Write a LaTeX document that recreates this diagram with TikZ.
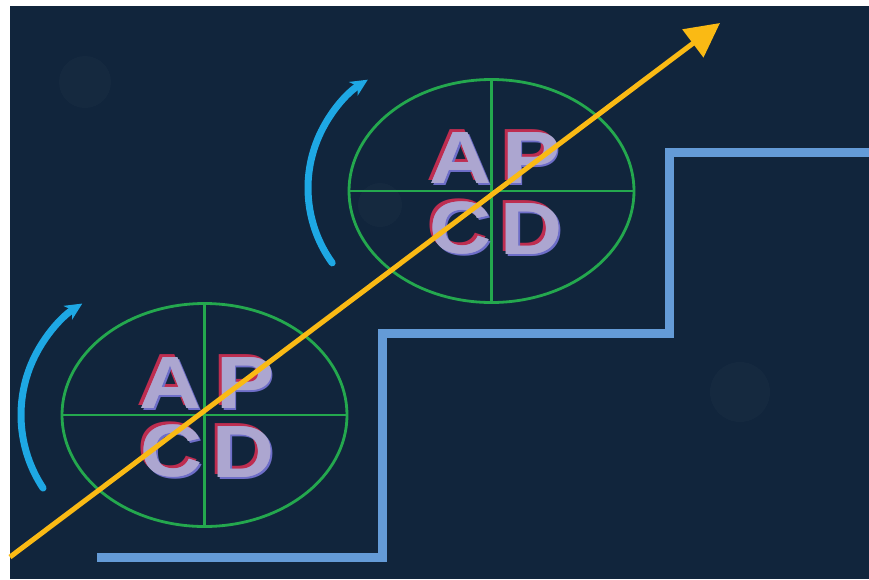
\documentclass[tikz,border=0pt]{standalone}
\usepackage{fontspec}
\usepackage{graphicx}
\newfontfamily\letterfont{Liberation Sans}
\usetikzlibrary{shapes.geometric,arrows.meta,calc}
\definecolor{bgnavy}{RGB}{17,37,60}
\definecolor{stairblue}{RGB}{100,155,215}
\definecolor{ringgreen}{RGB}{36,168,78}
\definecolor{arcblue}{RGB}{30,168,228}
\definecolor{arrowyellow}{RGB}{250,186,20}
\definecolor{lettfill}{RGB}{172,166,208}
\definecolor{lettred}{RGB}{190,45,80}
\definecolor{lettblue}{RGB}{110,110,200}
\newcommand{\wideglyph}[1]{\scalebox{1.16}[1]{#1}}
\newcommand{\layeredglyph}[1]{%
  \rlap{\kern-3pt\raisebox{3pt}{\color{lettred}\wideglyph{#1}}}%
  \rlap{\kern2.5pt\raisebox{-2pt}{\color{lettblue}\wideglyph{#1}}}%
  \rlap{\kern0.8pt{\color{lettfill}\wideglyph{#1}}}%
  {\color{lettfill}\wideglyph{#1}}}
\tikzset{
  ring/.style={ellipse, draw=ringgreen, line width=2.8pt, minimum width=285pt, minimum height=223pt, inner sep=0pt},
  cross/.style={draw=ringgreen, line width=2.6pt},
  stair/.style={draw=stairblue, line width=9pt},
  turnarc/.style={draw=arcblue, line width=7pt, line cap=round, -{Stealth[length=17pt,width=16pt,inset=5pt]}},
  growth/.style={draw=arrowyellow, line width=5pt, -{Triangle[length=34pt,width=34pt]}},
  lett/.style={inner sep=0pt, anchor=base, text height=54pt, text depth=0pt, font=\letterfont\bfseries\fontsize{74}{74}\selectfont},
}
\begin{document}
\begin{tikzpicture}[x=1pt,y=-1pt]
\useasboundingbox (0,0) rectangle (869,579);
\fill[white] (0,0) rectangle (869,579);
\fill[bgnavy] (10,6) rectangle (869,579);
% faint bokeh
\fill[white, opacity=0.02] (85,82) circle (26);
\fill[white, opacity=0.018] (740,392) circle (30);
\fill[white, opacity=0.018] (380,205) circle (22);
% stair
\coordinate (s0) at (97,557);
\coordinate (s1) at (382,557);
\coordinate (s2) at (382,333);
\coordinate (s3) at (669,333);
\coordinate (s4) at (669,152);
\coordinate (s5) at (875,152);
\draw[stair] (s0) -- (s1) -- (s2) -- (s3) -- (s4) -- (s5);
% rings
\node[ring] (lo) at (204.5,415) {};
\node[ring] (up) at (491.5,191) {};
\draw[cross] (lo.west) -- (lo.east);
\draw[cross] (lo.north) -- (lo.south);
\draw[cross] (up.west) -- (up.east);
\draw[cross] (up.north) -- (up.south);
% letters
\node[lett] (LA) at (170,408) {\layeredglyph{A}};
\node[lett] (LP) at (245,408) {\layeredglyph{P}};
\node[lett] (LC) at (171,476) {\layeredglyph{C}};
\node[lett] (LD) at (243,477) {\layeredglyph{D}};
\node[lett] (UA) at (460,183) {\layeredglyph{A}};
\node[lett] (UP) at (531,183) {\layeredglyph{P}};
\node[lett] (UC) at (460,253) {\layeredglyph{C}};
\node[lett] (UD) at (531,254) {\layeredglyph{D}};
% turning arcs
\draw[turnarc] (153,415) ++(146.4:132) arc[start angle=146.4, end angle=237.6, radius=132];
\draw[turnarc] (436,188) ++(144.2:128) arc[start angle=144.2, end angle=237.8, radius=128];
% growth arrow
\coordinate (g0) at (10,557);
\coordinate (g1) at (720,23);
\draw[growth] (g0) -- (g1);
\end{tikzpicture}
\end{document}
